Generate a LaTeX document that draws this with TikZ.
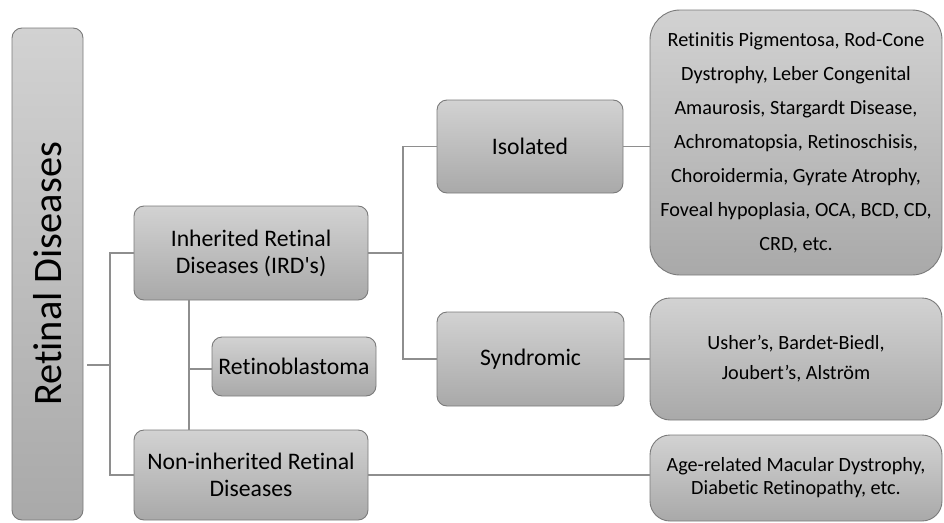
\documentclass[tikz,border=0pt]{standalone}
\usepackage{graphicx}
\usepackage{fontspec}
\setmainfont{Carlito}[Ligatures={TeX,NoCommon}]
\usetikzlibrary{calc}

\definecolor{boxtop}{HTML}{D2D2D2}
\definecolor{boxbot}{HTML}{A9A9A9}
\definecolor{boxline}{HTML}{7A7A7A}
\definecolor{linegray}{HTML}{8E8E8E}

\tikzset{
 box/.style={draw=boxline, line width=0.9pt, rounded corners=10pt,
   top color=boxtop, bottom color=boxbot, inner sep=0pt, align=center,
   font={\fontsize{23.7}{27}\selectfont}},
 listbox/.style={box, rounded corners=20pt, font={\fontsize{20.2}{34}\selectfont}},
 wire/.style={draw=linegray, line width=1.1pt},
}

\begin{document}
\begin{tikzpicture}[x=1pt,y=-1pt]
\useasboundingbox (0,0) rectangle (944,522);

% first column
\node[box, minimum width=71pt, minimum height=492pt] (root) at (47.5,274)
  {\rotatebox{90}{\fontsize{40.4}{44}\selectfont Retinal Diseases}};

% second column
\node[box, minimum width=234pt, minimum height=94pt] (ird) at (251,253)
  {Inherited Retinal\\Diseases (IRD\textquotesingle s)};
\node[box, minimum width=234pt, minimum height=90pt] (nonird) at (251,475)
  {Non-inherited Retinal\\Diseases};
\node[box, minimum width=164pt, minimum height=59pt] (retino) at (294,366.5)
  {Retinoblastoma};

% third column
\node[box, minimum width=186pt, minimum height=93pt] (isol) at (530,146.5) {Isolated};
\node[box, minimum width=187pt, minimum height=94pt] (synd) at (530.5,359) {Syndromic};

% last column
\node[listbox, rounded corners=30pt, minimum width=292pt, minimum height=265pt] (lista) at (796,142.5)
  {Retinitis Pigmentosa, Rod-Cone\\Dystrophy, Leber Congenital\\Amaurosis, Stargardt Disease,\\
   Achromatopsia, Retinoschisis,\\Choroidermia, Gyrate Atrophy,\\Foveal hypoplasia, OCA, BCD, CD,\\CRD, etc.};
\node[listbox, minimum width=292pt, minimum height=122pt, font={\fontsize{20.2}{30}\selectfont}] (listb) at (796,359)
  {Usher’s, Bardet-Biedl,\\Joubert’s, Alström};
\node[listbox, minimum width=292pt, minimum height=86pt, font={\fontsize{20.2}{23}\selectfont}] (listc) at (796,478)
  {Age-related Macular Dystrophy,\\Diabetic Retinopathy, etc.};

% connectors
\coordinate (j1) at (110,365);
\coordinate (j2) at (189,369);
\coordinate (j3) at (403,253);
\draw[wire] ($(root.east |- j1)+(4,0)$) -- (j1);
\draw[wire] (ird.west) -| (j1) |- (nonird.west);
\draw[wire] (j2 |- ird.south) -- (j2 |- nonird.north);
\draw[wire] (j2) -- (j2 -| retino.west);
\draw[wire] (ird.east) -- (j3);
\draw[wire] (isol.west) -| (j3) |- (synd.west);
\draw[wire] (isol.east) -- (isol.east -| lista.west);
\draw[wire] (synd.east) -- (synd.east -| listb.west);
\draw[wire] (nonird.east) -- (nonird.east -| listc.west);
\end{tikzpicture}
\end{document}
